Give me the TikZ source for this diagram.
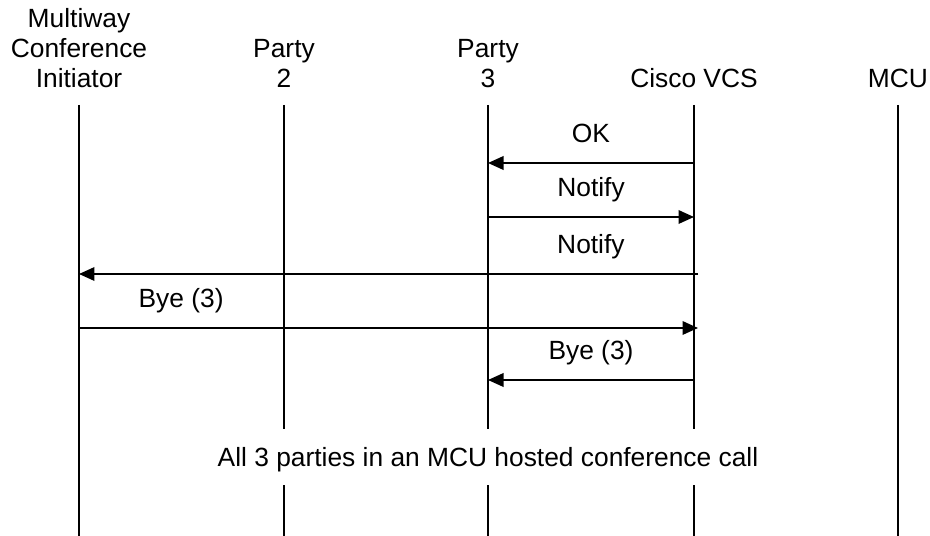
\documentclass[tikz,border=0pt]{standalone}
\usepackage{fontspec}
\setmainfont{Liberation Sans}
\usetikzlibrary{arrows.meta}

\tikzset{
  party/.style={anchor=south, inner sep=0pt, text depth=0pt},
  lifeline/.style={line width=1.1pt},
  msg/.style={line width=1.1pt, -{Triangle[length=0.31cm, width=0.27cm]}},
  lbl/.style={above=0.4cm, inner sep=0pt, text depth=0pt},
}

\begin{document}
\begin{tikzpicture}[x=0.02cm, y=-0.02cm, every node/.style={align=center, font=\fontsize{15pt}{17.07pt}\selectfont}]
\useasboundingbox (0,0) rectangle (930,536);

% participants
\node (init) [party] at (79,88) {Multiway\\Conference\\Initiator};
\node (p2) [party] at (284,88) {Party\\2};
\node (p3) [party] at (488,88) {Party\\3};
\node (vcs) [party] at (694,88) {Cisco VCS};
\node (mcu) [party] at (898,88) {MCU};

% lifelines
\foreach \n in {init,p2,p3,vcs,mcu}
  \draw[lifeline] (\n |- 0,105) -- (\n |- 0,536);

% messages
\draw[msg] (vcs |- 0,163) -- (p3 |- 0,163) node[lbl, midway] {OK};
\draw[msg] (p3 |- 0,217) -- (vcs |- 0,217) node[lbl, midway] {Notify};
\draw[msg] ([xshift=0.08cm]vcs |- 0,274) -- (init |- 0,274) node[lbl, pos=0.173] {Notify};
\draw[msg] (init |- 0,328) -- ([xshift=0.08cm]vcs |- 0,328) node[lbl, pos=0.165] {Bye (3)};
\draw[msg] (vcs |- 0,380) -- (p3 |- 0,380) node[lbl, midway] {Bye (3)};

% conference note
\node (note) [fill=white, anchor=base, inner sep=0pt, text height=0.76cm, text depth=0.36cm] at (488,467) {All 3 parties in an MCU hosted conference call};
\end{tikzpicture}
\end{document}
